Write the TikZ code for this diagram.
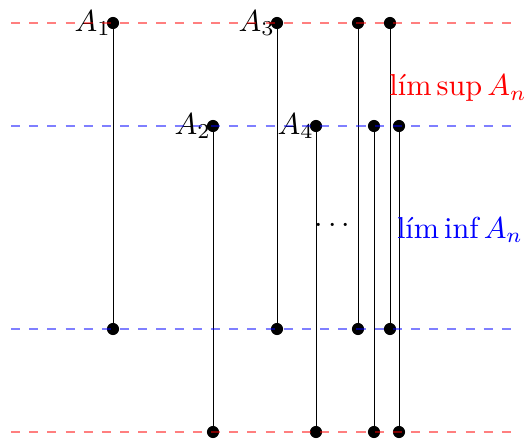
\documentclass[tikz,border=0pt]{standalone}
\usepackage{amsmath}

\begin{document}
\begin{tikzpicture}[x=0.33pt,y=-0.33pt]
  \useasboundingbox (0,0) rectangle (528,439);

  % upper ends
  \coordinate (t1) at (113,23);
  \coordinate (t2) at (213,126);
  \coordinate (t3) at (277,23);
  \coordinate (t4) at (316,126);
  \coordinate (t5) at (358,23);
  \coordinate (t6) at (374,126);
  \coordinate (t7) at (390,23);
  \coordinate (t8) at (399,126);
  % lower ends
  \coordinate (b1) at (113,329);
  \coordinate (b2) at (213,432);
  \coordinate (b3) at (277,329);
  \coordinate (b4) at (316,432);
  \coordinate (b5) at (358,329);
  \coordinate (b6) at (374,432);
  \coordinate (b7) at (390,329);
  \coordinate (b8) at (399,432);

  \draw[line width=0.3pt] (t1) -- (b1);
  \draw[line width=0.3pt] (t2) -- (b2);
  \draw[line width=0.3pt] (t3) -- (b3);
  \draw[line width=0.3pt] (t4) -- (b4);
  \draw[line width=0.3pt] (t5) -- (b5);
  \draw[line width=0.3pt] (t6) -- (b6);
  \draw[line width=0.3pt] (t7) -- (b7);
  \draw[line width=0.3pt] (t8) -- (b8);

  \fill (t1) circle (2pt);  \fill (b1) circle (2pt);
  \fill (t2) circle (2pt);  \fill (b2) circle (2pt);
  \fill (t3) circle (2pt);  \fill (b3) circle (2pt);
  \fill (t4) circle (2pt);  \fill (b4) circle (2pt);
  \fill (t5) circle (2pt);  \fill (b5) circle (2pt);
  \fill (t6) circle (2pt);  \fill (b6) circle (2pt);
  \fill (t7) circle (2pt);  \fill (b7) circle (2pt);
  \fill (t8) circle (2pt);  \fill (b8) circle (2pt);

  \node[left, inner sep=0.5pt] (A1) at (t1) {$A_1$};
  \node[left, inner sep=0.5pt] (A2) at (t2) {$A_2$};
  \node[left, inner sep=0.5pt] (A3) at (t3) {$A_3$};
  \node[left, inner sep=0.5pt] (A4) at (t4) {$A_4$};
  \node (dots) at (335,226) {$\cdots$};

  \node[red]  (sup) at (458,88)  {$\mathop{\text{lím}\,\text{sup}} A_n$};
  \node[blue] (inf) at (460,230) {$\mathop{\text{lím}\,\text{inf}} A_n$};

  \draw[dashed, red, opacity=0.5]  (11,23)  -- (517,23);
  \draw[dashed, blue, opacity=0.5] (11,126) -- (517,126);
  \draw[dashed, blue, opacity=0.5] (11,329) -- (517,329);
  \draw[dashed, red, opacity=0.5]  (11,432) -- (517,432);

\end{tikzpicture}
\end{document}
